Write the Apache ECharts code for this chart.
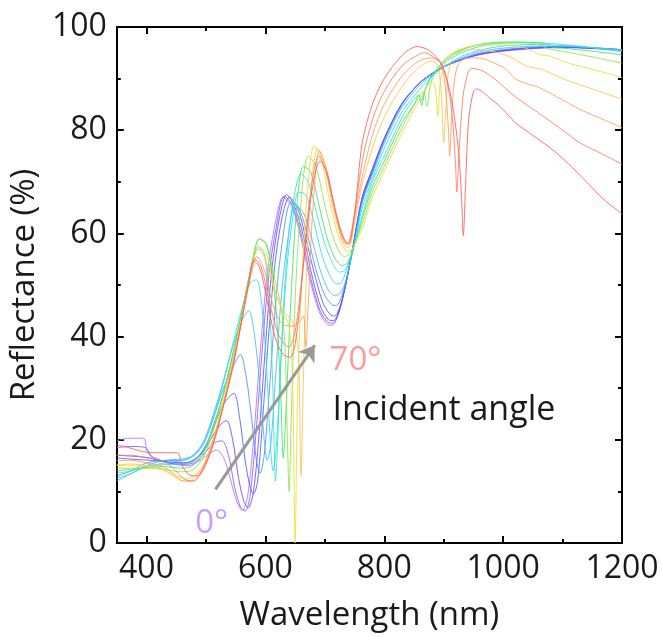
<!DOCTYPE html>
<html>
<head>
<meta charset="utf-8">
<script src="https://cdn.jsdelivr.net/npm/echarts@6/dist/echarts.min.js"></script>
<style>
  html, body { margin: 0; padding: 0; background: #fff; }
  #chart { width: 662px; height: 637px; }
</style>
</head>
<body>
<div id="chart"></div>
<script>
// Incident angles (degrees) and the colour used for each reflectance spectrum
const ANGLES = [0, 5, 10, 15, 20, 25, 30, 35, 40, 45, 50, 55, 60, 65, 70];
const COLORS = ['#b070ff', '#8c55ff', '#6a45ff', '#4b5cff', '#4d8dff', '#42b8ff', '#2ed8ff',
                '#33e6c0', '#3ee070', '#8ae63e', '#e8e030', '#ffc24a', '#ff9e5a', '#ff7a66', '#ff5a5a'];

// Reflectance spectra: [wavelength (nm), reflectance (%)]
const R00 = [[350,19.8],[370,20.3],[395,20.3],[402,17.5],[420,16.2],[445,15.3],[470,15],[490,16],[505,17.3],[518,18],[530,16.5],[542,12],[552,8],[561,6.3],[570,9],[580,20],[592,38],[603,52],[615,61],[630,67],[645,65],[660,59],[675,51],[690,45],[703,42.5],[712,42.2],[722,44],[733,49],[745,56],[763,67],[780,72.5],[800,78.5],[830,85.2],[860,89.2],[880,91],[900,92.3],[930,93.6],[960,94.6],[1000,95.3],[1050,95.8],[1100,96],[1150,95.8],[1200,95.5]];
const R05 = [[350,18.5],[375,18.7],[398,18.5],[410,16.5],[430,15.8],[455,15.2],[478,15.5],[495,17],[512,19.3],[527,19.8],[538,17],[548,11],[558,7],[566,6.2],[574,9],[584,21],[595,38],[606,52],[618,61],[632,67.3],[647,65],[662,59],[677,51],[692,45],[705,42.8],[713,42.6],[723,44.5],[734,49.5],[746,56.5],[763,67],[780,72.5],[800,78.4],[830,85.2],[860,89.2],[880,90.9],[900,92.3],[930,93.7],[960,94.7],[1000,95.4],[1050,95.9],[1100,96.1],[1150,95.9],[1200,95.5]];
const R10 = [[350,17],[380,16.8],[405,16.5],[420,16],[440,15.5],[465,15.5],[485,16.5],[500,18.5],[515,21.5],[528,23.3],[535,23.7],[545,20],[555,12.5],[564,8],[571,6.8],[580,10],[590,22],[600,38],[610,52],[622,62],[636,67.5],[650,65],[665,59],[680,51],[694,45.5],[706,43.3],[714,43.1],[724,45],[735,50],[746,56.5],[763,67],[780,72.3],[800,78.3],[830,85.2],[860,89.2],[880,90.9],[900,92.3],[930,93.7],[960,94.7],[1000,95.4],[1050,95.9],[1100,96.1],[1150,95.9],[1200,95.6]];
const R15 = [[350,16.5],[380,16.2],[410,16],[440,15.7],[465,15.5],[485,16.5],[500,19],[515,23],[530,27],[547,29],[557,24],[566,16],[574,11],[580,9.5],[587,12],[596,25],[606,41],[616,54],[628,63],[640,67],[654,65],[668,59],[683,52],[697,46.5],[709,44.3],[716,44],[726,46],[737,51],[747,57],[763,66.5],[780,72],[800,78.2],[830,85.1],[860,89.2],[880,90.9],[900,92.3],[930,93.7],[960,94.8],[1000,95.5],[1050,96],[1100,96.1],[1150,95.9],[1200,95.6]];
const R20 = [[350,13],[375,14],[400,15.5],[430,16],[460,16],[480,17],[497,19.5],[512,24],[528,29.5],[545,34],[558,36.5],[568,32],[577,24],[585,16],[591,13.5],[598,17],[607,30],[617,46],[628,58],[643,66],[656,65],[670,60],[685,53],[700,48],[712,46.2],[719,46],[729,48],[739,52.5],[748,57.5],[763,66.3],[780,71.8],[800,78],[830,85],[860,89.2],[880,90.9],[900,92.3],[930,93.8],[960,94.9],[1000,95.6],[1050,96.1],[1100,96.2],[1150,96],[1200,95.6]];
const R25 = [[350,12],[375,13.5],[400,15],[430,16],[460,16.3],[478,17],[495,19.5],[510,24],[527,30.5],[545,38],[560,43],[572,45],[582,40],[591,30],[598,20],[603,16],[609,19],[617,32],[627,48],[638,59],[650,65.5],[664,64],[678,59],[692,53],[706,49],[716,48],[724,48.2],[733,50],[742,54],[750,58],[763,66],[780,71.3],[800,77.5],[830,84.5],[860,88.7],[880,90.6],[900,92.3],[930,94],[960,95.2],[1000,95.9],[1050,96.3],[1100,96.3],[1150,96],[1200,95.6]];
const R30 = [[350,12.5],[375,13.5],[400,14.8],[430,15.5],[460,16],[478,16.8],[495,19],[510,23.5],[527,30],[545,38.5],[562,46],[575,50.5],[585,51],[595,45],[603,32],[609,18],[613,14],[618,18],[626,35],[636,53],[646,63],[656,68],[668,67.5],[682,62],[696,55.5],[710,51.5],[720,50.2],[728,50.5],[738,53.5],[750,58],[763,65],[780,70.5],[800,76.5],[830,83.5],[860,88],[880,90.3],[900,92.2],[930,94.3],[960,95.5],[1000,96.3],[1050,96.6],[1100,96.4],[1150,96],[1200,95.5]];
const R35 = [[350,13.5],[375,14],[400,14.8],[430,15.2],[460,15.3],[478,15.8],[495,17.5],[510,22],[527,28],[545,36.5],[560,44.5],[575,52.5],[588,57.5],[598,56],[606,48],[612,32],[615,18],[617,12],[620,18],[627,38],[637,57],[648,67],[660,71.5],[672,70],[686,64],[700,58],[714,54],[725,52.5],[733,52.8],[742,55],[751,58.5],[763,63.5],[780,70],[800,75],[830,82.5],[850,86],[858,86.8],[863,85.8],[870,88.3],[880,90.5],[900,93],[930,95],[960,96.2],[1000,96.9],[1050,97],[1100,96.6],[1150,96],[1200,95.2]];
const R40 = [[350,14],[375,14.3],[400,14.6],[430,14.8],[460,14.5],[478,15],[495,17.2],[510,21.8],[527,28],[545,36.5],[560,44.5],[575,53],[590,59],[601,58],[612,52],[620,42],[626,28],[630,16.5],[634,24],[642,45],[652,64],[664,73],[676,72],[690,65.5],[704,59],[718,55],[729,53.8],[737,54.2],[745,56],[753,58.8],[763,62.8],[780,69],[800,74],[830,81.5],[850,85],[858,86.8],[863,84.8],[868,87.5],[880,90.5],[900,93.3],[930,95.5],[960,96.6],[1000,97.1],[1050,97],[1075,96.6],[1085,96],[1100,95.9],[1150,95.3],[1200,94.6]];
const R45 = [[350,14.5],[375,14.5],[400,14.5],[430,14.3],[455,13.8],[475,14],[495,16.5],[510,21],[527,27.5],[545,36],[560,44],[575,52.5],[590,58.8],[602,58],[614,52],[626,46],[633,38],[637,20],[640,10],[643,22],[650,47],[660,66],[672,75],[685,73],[698,66.5],[712,60],[724,56.5],[733,55.5],[741,56],[749,57.5],[757,60],[765,62.5],[780,68],[800,73],[830,80.5],[855,85.8],[866,87.5],[872,84.6],[878,89],[890,92],[910,94.5],[940,96],[970,96.7],[1000,96.9],[1040,96.9],[1065,96.4],[1075,95.8],[1100,95.3],[1150,94.2],[1200,93]];
const R50 = [[350,15],[375,15],[400,14.8],[425,14.2],[450,13],[468,12.5],[485,13.5],[498,15.5],[512,20],[527,26.5],[545,35],[560,43.5],[575,52],[588,57],[600,56.5],[614,50],[628,45],[640,42],[646,30],[650,0],[654,28],[660,48],[670,67],[682,77],[694,74.5],[706,67.5],[719,61],[730,57.5],[738,56.5],[746,57],[755,59],[765,61.5],[780,67],[800,72],[830,79.5],[860,86],[880,89.5],[886,88],[890,82.7],[895,90],[905,93.8],[925,95.6],[960,96.5],[1000,96.5],[1035,96],[1050,95.3],[1060,94.7],[1080,94.3],[1110,93],[1160,91.5],[1200,90.2]];
const R55 = [[350,15.2],[375,15.3],[400,15],[425,14.5],[445,13],[462,12],[478,12.3],[495,15],[510,19.5],[527,26],[545,35],[560,43.5],[575,52],[588,57],[600,55],[615,49],[630,45],[645,43],[655,38],[660,13],[664,32],[670,55],[678,70],[688,76.5],[700,73],[712,66],[725,60],[734,57.5],[740,57.3],[750,62],[763,69.5],[780,76.5],[800,82.5],[830,88.5],[860,92.3],[880,93.4],[890,92.5],[896,87],[900,77.6],[904,85],[910,92.5],[925,95],[950,95.6],[980,95.3],[1010,94.3],[1030,93],[1045,92.2],[1065,91.8],[1100,90],[1150,88],[1200,86]];
const R60 = [[350,16],[375,16],[400,15.5],[425,15],[445,13.5],[462,12],[478,12],[495,14.5],[510,19],[527,25.8],[545,34.5],[560,43],[575,51.5],[586,55.5],[598,53],[612,46.5],[628,42.5],[645,42],[658,43],[664,44],[668,38],[672,46],[680,65],[691,76],[703,72.5],[715,65.5],[727,60],[735,58],[741,58],[750,63],[763,71],[780,79],[800,85],[830,90.5],[860,93.5],[880,94],[895,93],[903,88],[908,80],[910,75],[914,84],[922,92],[938,94],[960,94],[985,93],[1005,91.8],[1020,90],[1040,89],[1060,88.3],[1090,86.5],[1130,84],[1170,82],[1200,80.5]];
const R65 = [[350,17],[375,17],[400,16.5],[425,16],[445,14.5],[462,12.5],[478,12],[495,14],[510,18.5],[527,25.5],[545,34],[560,43],[572,50.5],[582,55],[593,53.5],[606,47],[620,41],[632,38.5],[640,38],[650,41],[662,52],[675,67],[690,75],[702,72],[714,66],[726,60.5],[735,58.2],[740,58],[750,63.5],[763,74],[780,82],[800,87.5],[830,92.5],[860,94.8],[868,95],[885,94],[897,92.7],[908,88],[915,82],[920,73],[922,68],[926,76],[933,87],[942,91.5],[947,92],[965,91.5],[985,90],[1005,88],[1020,86.5],[1045,84.5],[1070,82.5],[1100,80],[1130,77.5],[1165,75.5],[1200,73.4]];
const R70 = [[350,19],[370,18.5],[390,17.8],[410,17.5],[430,17.5],[452,17.5],[460,15],[472,13.2],[485,13],[498,15],[512,19],[527,25.5],[545,34],[560,43],[572,50.5],[580,54.7],[590,53.5],[603,47],[616,40],[630,36.5],[642,36],[652,40],[665,55],[678,68],[692,74],[703,72],[714,66.5],[726,61],[738,58],[750,64],[763,77.6],[780,85],[800,90],[830,94.5],[855,96.2],[875,95.5],[897,92.7],[913,86],[925,76],[930,67],[933,59.6],[937,70],[942,82],[950,87.5],[955,88],[980,86],[1000,84],[1020,81.5],[1050,79],[1080,76.5],[1110,73.5],[1140,70],[1170,66.5],[1200,63.8]];
const SPECTRA = [R00, R05, R10, R15, R20, R25, R30, R35, R40, R45, R50, R55, R60, R65, R70];

// Axis ticks
const X_LABELS = [400, 600, 800, 1000, 1200];
const X_MAJOR = [400, 600, 800, 1000];
const X_MINOR = [500, 700, 900, 1100];

// Annotation: arrow from low to high angle, and its labels (data coordinates)
const ARROW_FROM = [516, 10.4];
const ARROW_TO = [683, 38.3];
const LABEL_HIGH = { text: '70°', at: [708, 35.4] };
const LABEL_LOW = { text: '0°', at: [482, 3.8] };
const LABEL_NAME = { text: 'Incident angle', at: [713, 25.7] };

const FONT = '"Open Sans", "Noto Sans", sans-serif';
const INK = '#1a1a1a';

const chart = echarts.init(document.getElementById('chart'), null, { renderer: 'canvas' });

function xAxisDef(position, ticks, len, withLabels) {
  return {
    type: 'value', position: position, min: 350, max: 1200,
    axisLine: { show: true, onZero: false, lineStyle: { color: '#000', width: 2 } },
    axisTick: { show: true, inside: true, length: len, customValues: ticks,
                lineStyle: { color: '#000', width: 2 } },
    axisLabel: withLabels
      ? { show: true, customValues: X_LABELS, formatter: v => String(v),
          fontSize: 32, color: INK, fontFamily: FONT, margin: 10 }
      : { show: false },
    splitLine: { show: false }
  };
}

function yAxisDef(position, withLabels) {
  return {
    type: 'value', position: position, min: 0, max: 100, interval: 20,
    axisLine: { show: true, onZero: false, lineStyle: { color: '#000', width: 2 } },
    axisTick: { show: true, inside: true, length: 7, lineStyle: { color: '#000', width: 2 } },
    minorTick: { show: true, splitNumber: 2, length: 4, lineStyle: { color: '#000', width: 2 } },
    axisLabel: withLabels
      ? { show: true, fontSize: 32, color: INK, fontFamily: FONT, margin: 10 }
      : { show: false },
    splitLine: { show: false }
  };
}

const xMain = xAxisDef('bottom', X_MAJOR, 7, true);
xMain.name = 'Wavelength (nm)';
xMain.nameLocation = 'middle';
xMain.nameGap = 56;
xMain.nameTextStyle = { fontSize: 33, color: INK, fontFamily: FONT };

const yMain = yAxisDef('left', true);
yMain.name = 'Reflectance (%)';
yMain.nameLocation = 'middle';
yMain.nameGap = 46;
yMain.nameTextStyle = { fontSize: 33, color: INK, fontFamily: FONT };

const series = SPECTRA.map((d, i) => ({
  name: ANGLES[i] + '°',
  type: 'line',
  xAxisIndex: 0, yAxisIndex: 0,
  data: d,
  showSymbol: false,
  smooth: 0.3,
  clip: true,
  lineStyle: { color: COLORS[i], width: 1, opacity: 0.85 },
  z: 2
}));

series.push({
  name: 'arrow', type: 'line', xAxisIndex: 0, yAxisIndex: 0, data: [],
  markLine: {
    silent: true, symbol: ['none', 'arrow'], symbolSize: 15,
    label: { show: false },
    lineStyle: { color: '#999', width: 3, type: 'solid' },
    data: [[{ coord: ARROW_FROM }, { coord: ARROW_TO }]]
  },
  z: 5
});

chart.setOption({
  animation: false,
  backgroundColor: '#fff',
  grid: { left: 112, right: 40, top: 27, bottom: 91, containLabel: false },
  xAxis: [
    xMain,
    xAxisDef('bottom', X_MINOR, 4, false),
    xAxisDef('top', X_MAJOR, 7, false),
    xAxisDef('top', X_MINOR, 4, false)
  ],
  yAxis: [yMain, yAxisDef('right', false)],
  series: series
});

function labelGraphic(lbl, color, size) {
  const p = chart.convertToPixel({ xAxisIndex: 0, yAxisIndex: 0 }, lbl.at);
  return {
    type: 'text', x: p[0], y: p[1], z: 10,
    style: { text: lbl.text, fill: color, font: size + 'px ' + FONT, align: 'left', verticalAlign: 'middle' }
  };
}

chart.setOption({
  graphic: [
    labelGraphic(LABEL_HIGH, '#ff9a9a', 33),
    labelGraphic(LABEL_LOW, '#c99cff', 33),
    labelGraphic(LABEL_NAME, INK, 34)
  ]
});
</script>
</body>
</html>
